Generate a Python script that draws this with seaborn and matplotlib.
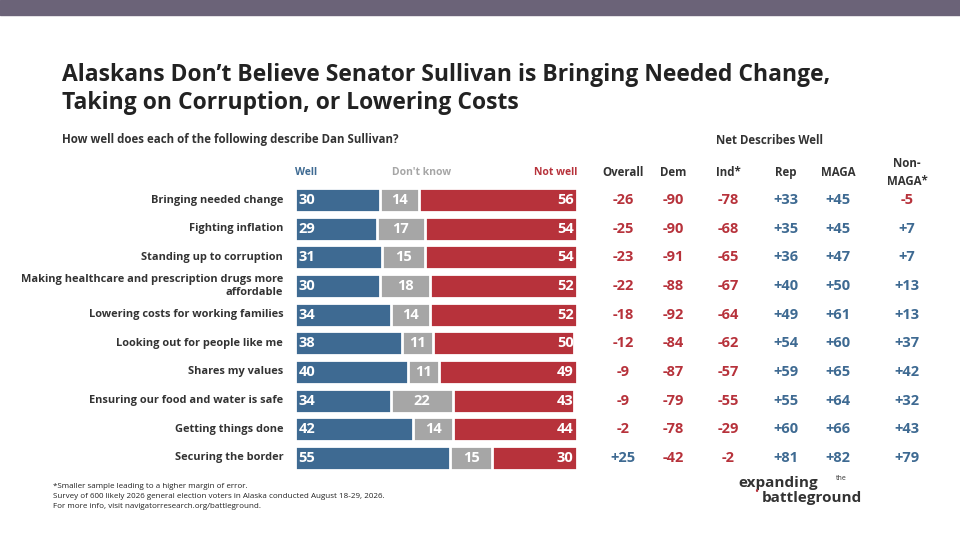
import pandas as pd
import matplotlib.pyplot as plt
import seaborn as sns

# data
items = ["Bringing needed change", "Fighting inflation", "Standing up to corruption",
         "Making healthcare and prescription drugs more\naffordable",
         "Lowering costs for working families", "Looking out for people like me",
         "Shares my values", "Ensuring our food and water is safe",
         "Getting things done", "Securing the border"]
well = [30, 29, 31, 30, 34, 38, 40, 34, 42, 55]
dont_know = [14, 17, 15, 18, 14, 11, 11, 22, 14, 15]
not_well = [56, 54, 54, 52, 52, 50, 49, 43, 44, 30]

net_cols = ["Overall", "Dem", "Ind*", "Rep", "MAGA", "Non-\nMAGA*"]
net_overall = [-26, -25, -23, -22, -18, -12, -9, -9, -2, 25]
net_dem = [-90, -90, -91, -88, -92, -84, -87, -79, -78, -42]
net_ind = [-78, -68, -65, -67, -64, -62, -57, -55, -29, -2]
net_rep = [33, 35, 36, 40, 49, 54, 59, 55, 60, 81]
net_maga = [45, 45, 47, 50, 61, 60, 65, 64, 66, 82]
net_nonmaga = [-5, 7, 7, 13, 13, 37, 42, 32, 43, 79]

BLUE = "#3e6a92"
GRAY = "#a6a6a6"
RED = "#b7323b"

sns.set_theme(style="white")
plt.rcParams['font.family'] = ['Open Sans', 'DejaVu Sans']

df = pd.DataFrame({"item": items, "well": well, "dk": dont_know, "nw": not_well})
df["wd"] = df["well"] + df["dk"]
df["tot"] = df["wd"] + df["nw"]

fig = plt.figure(figsize=(9.6, 5.4), dpi=100)
fig.patches.append(plt.Rectangle((0, 1 - 15 / 540), 1, 15 / 540, transform=fig.transFigure,
                                 color="#6b6378", zorder=0))

ax = fig.add_axes([295 / 960, 1 - 472.3 / 540, 282 / 960, 286.6 / 540])
for col, c in [("tot", RED), ("wd", GRAY), ("well", BLUE)]:
    sns.barplot(data=df, x=col, y="item", color=c, orient="h", width=0.84, saturation=1,
                edgecolor="white", linewidth=2, ax=ax)
ax.set_xlim(0, 100)
ax.set_xlabel("")
ax.set_ylabel("")
ax.set_xticks([])
ax.set_yticklabels([])
ax.tick_params(left=False)
for s in ax.spines.values():
    s.set_visible(False)

for i in range(len(items)):
    ax.text(1.2, i, str(well[i]), color="white", fontweight="bold", fontsize=10.5, va="center")
    ax.text(well[i] + dont_know[i] / 2, i, str(dont_know[i]), color="white", fontweight="bold",
            fontsize=10.5, va="center", ha="center")
    ax.text(98.8, i, str(not_well[i]), color="white", fontweight="bold", fontsize=10.5,
            va="center", ha="right")
    ax.text(-4.2, i, items[i], ha="right", va="center", fontsize=7.9, fontweight="bold",
            color="#333333", linespacing=1.2)

ax.text(0, -0.95, "Well", color=BLUE, fontsize=7.5, fontweight="bold", va="center")
ax.text(45, -0.95, "Don't know", color=GRAY, fontsize=7.5, fontweight="bold", va="center", ha="center")
ax.text(100, -0.95, "Not well", color=RED, fontsize=7.5, fontweight="bold", va="center", ha="right")

# net columns
xs = [623, 673, 728, 786, 838, 907]
nets = [net_overall, net_dem, net_ind, net_rep, net_maga, net_nonmaga]
for x, name, vals in zip(xs, net_cols, nets):
    ax.text((x - 295) / 282 * 100, -0.95, name, ha="center", va="center", fontsize=8.3,
            fontweight="bold", color="#333333", transform=ax.transData, linespacing=1.5)
    for i, v in enumerate(vals):
        ax.text((x - 295) / 282 * 100, i, f"{v:+d}", ha="center", va="center", fontsize=10.5,
                fontweight="bold", color=RED if v < 0 else BLUE, clip_on=False)

fig.text(62 / 960, 1 - 75 / 540, "Alaskans Don’t Believe Senator Sullivan is Bringing Needed Change,",
         fontsize=16.5, fontweight="bold", color="#222222", va="center")
fig.text(62 / 960, 1 - 103 / 540, "Taking on Corruption, or Lowering Costs",
         fontsize=16.5, fontweight="bold", color="#222222", va="center")
fig.text(62 / 960, 1 - 140 / 540, "How well does each of the following describe Dan Sullivan?",
         fontsize=8.3, fontweight="bold", color="#333333", va="center")
fig.text(770 / 960, 1 - 140 / 540, "Net Describes Well", fontsize=8.3, fontweight="bold",
         color="#333333", va="center", ha="center")

foot = ("*Smaller sample leading to a higher margin of error.\n"
        "Survey of 600 likely 2026 general election voters in Alaska conducted August 18-29, 2026.\n"
        "For more info, visit navigatorresearch.org/battleground.")
fig.text(53 / 960, 1 - 497 / 540, foot, fontsize=5.8, color="#222222", va="center", linespacing=1.6)

# logo text
fig.text(738 / 960, 1 - 483 / 540, "expanding", fontsize=11, fontweight="bold", color="#333333", va="center")
fig.text(836 / 960, 1 - 478 / 540, "the", fontsize=5, color="#333333", va="center")
fig.text(762 / 960, 1 - 498 / 540, "battleground", fontsize=11, fontweight="bold", color="#333333", va="center")
fig.text(754 / 960, 1 - 492 / 540, "•", fontsize=8, color=RED, va="center")

fig.savefig("out.png", dpi=100)
